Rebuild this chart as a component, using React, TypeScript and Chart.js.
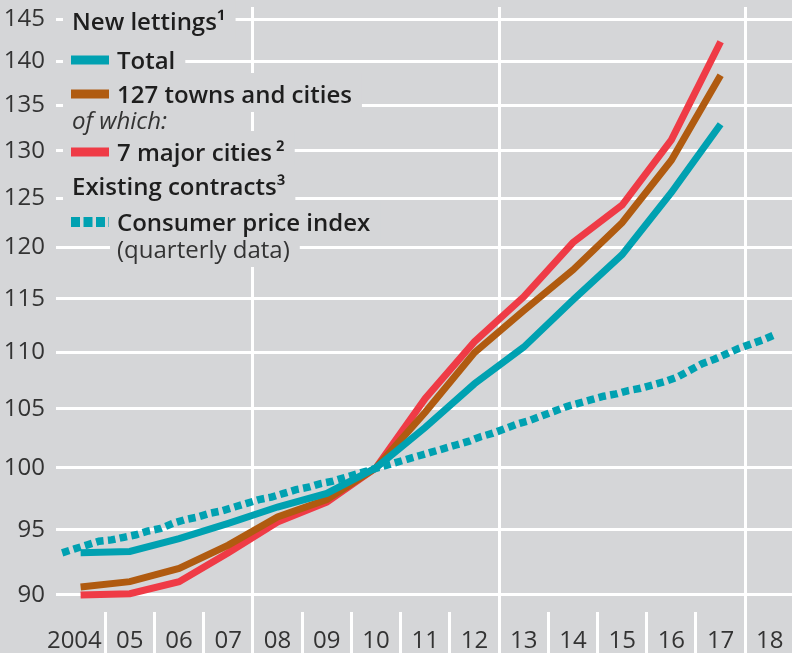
import React, { useEffect, useRef } from 'react';
import { Chart, registerables } from 'chart.js';

Chart.register(...registerables);

// ---------- data ----------
const years = [2004, 2005, 2006, 2007, 2008, 2009, 2010, 2011, 2012, 2013, 2014, 2015, 2016, 2017];
const total = [93.2, 93.3, 94.3, 95.5, 96.8, 97.9, 100, 103.4, 107.2, 110.5, 114.9, 119.3, 125.6, 132.9];
const towns127 = [90.6, 91.0, 92.0, 93.8, 96.0, 97.4, 100, 104.7, 110.0, 113.9, 117.8, 122.5, 129.0, 138.4];
const majorCities7 = [90.0, 90.1, 91.0, 93.2, 95.6, 97.2, 100, 105.9, 111.0, 115.2, 120.5, 124.3, 131.2, 142.3];
// quarterly, starting 2004 Q1
const cpiStartYear = 2004;
const cpiQuarterly = [
  93.2, 93.5, 93.8, 94.1,
  94.2, 94.4, 94.6, 94.9,
  95.1, 95.5, 95.8, 96.0,
  96.3, 96.5, 96.8, 97.1,
  97.4, 97.6, 97.9, 98.2,
  98.4, 98.7, 98.9, 99.2,
  99.5, 99.8, 100.1, 100.4,
  100.7, 101.0, 101.3, 101.6,
  101.9, 102.2, 102.6, 102.9,
  103.3, 103.7, 104.0, 104.4,
  104.8, 105.2, 105.5, 105.8,
  106.1, 106.3, 106.6, 106.8,
  107.1, 107.4, 107.8, 108.4,
  109.0, 109.4, 109.9, 110.4,
  110.8, 111.2, 111.7,
];
const yTicks = [90, 95, 100, 105, 110, 115, 120, 125, 130, 135, 140, 145];
const xTickYears = [2004, 2005, 2006, 2007, 2008, 2009, 2010, 2011, 2012, 2013, 2014, 2015, 2016, 2017, 2018];
const xGridYears = [2008, 2013, 2018];

const labelHeading1 = 'New lettings\u00B9';
const labelTotal = 'Total';
const labelTowns = '127 towns and cities';
const labelOfWhich = 'of which:';
const labelMajor = '7 major cities\u2009\u00B2';
const labelHeading2 = 'Existing contracts\u00B3';
const labelCpi = 'Consumer price index';
const labelCpiNote = '(quarterly data)';

// ---------- style ----------
const BG = '#d5d6d8';
const TEAL = '#00a1b1';
const BROWN = '#b05b10';
const RED = '#ef3b46';
const FONT = "'Open Sans', 'DejaVu Sans', sans-serif";
const TEXT = '#1e1e1e';

const annual = (vals: number[]) => vals.map((v, i) => ({ x: years[i] + 0.5, y: v }));
const cpiPoints = cpiQuarterly.map((v, i) => ({
  x: cpiStartYear + Math.floor(i / 4) + ((i % 4) + 0.5) / 4,
  y: v,
}));

const legendPlugin = {
  id: 'customLegend',
  beforeDatasetsDraw(chart: any) {
    const ctx = chart.ctx as CanvasRenderingContext2D;
    const bold = `600 24px ${FONT}`;
    const rows = [
      { text: labelHeading1, x: 72, base: 30, font: bold, color: TEXT, boxLeft: 63 },
      { text: labelTotal, x: 117, base: 69, font: bold, color: TEXT, boxLeft: 63, swatch: TEAL },
      { text: labelTowns, x: 117, base: 103, font: bold, color: TEXT, boxLeft: 63, swatch: BROWN },
      { text: labelOfWhich, x: 72, base: 129, font: `italic 400 24px ${FONT}`, color: '#333', boxLeft: 63 },
      { text: labelMajor, x: 117, base: 161, font: bold, color: TEXT, boxLeft: 63, swatch: RED },
      { text: labelHeading2, x: 72, base: 195, font: bold, color: TEXT, boxLeft: 63 },
      { text: labelCpi, x: 117, base: 231, font: bold, color: TEXT, boxLeft: 63, swatch: 'dotted' },
      { text: labelCpiNote, x: 117, base: 258, font: `400 24px ${FONT}`, color: '#333', boxLeft: 110 },
    ];
    ctx.save();
    ctx.fillStyle = BG;
    for (const r of rows) {
      ctx.font = r.font;
      const w = ctx.measureText(r.text).width;
      ctx.fillRect(r.boxLeft, r.base - 30, r.x + w + 10 - r.boxLeft, 39);
    }
    for (const r of rows) {
      if (r.swatch) {
        const cy = r.base - 9;
        if (r.swatch === 'dotted') {
          ctx.fillStyle = TEAL;
          for (let sx = 71; sx < 109; sx += 12.5) {
            ctx.fillRect(sx, cy - 5, Math.min(9, 109 - sx), 10);
          }
        } else {
          ctx.fillStyle = r.swatch;
          ctx.fillRect(71, cy - 4.5, 38, 9);
        }
      }
      ctx.font = r.font;
      ctx.fillStyle = r.color;
      ctx.textAlign = 'left';
      ctx.textBaseline = 'alphabetic';
      ctx.fillText(r.text, r.x, r.base);
    }
    ctx.restore();
  },
};

const bgPlugin = {
  id: 'bg',
  beforeDraw(chart: any) {
    const ctx = chart.ctx as CanvasRenderingContext2D;
    ctx.save();
    ctx.fillStyle = BG;
    ctx.fillRect(0, 0, chart.width, chart.height);
    ctx.restore();
  },
};

export default function App() {
  const ref = useRef<HTMLCanvasElement>(null);
  useEffect(() => {
    if (!ref.current) return;
    const chart = new Chart(ref.current, {
      type: 'line',
      data: {
        datasets: [
          {
            label: labelCpi,
            data: cpiPoints,
            borderColor: TEAL,
            borderWidth: 7.5,
            borderDash: [7.5, 4.4],
            borderCapStyle: 'butt',
            pointRadius: 0,
            tension: 0,
          },
          {
            label: labelTotal,
            data: annual(total),
            borderColor: TEAL,
            borderWidth: 7,
            borderCapStyle: 'butt',
            borderJoinStyle: 'miter',
            pointRadius: 0,
            tension: 0,
          },
          {
            label: labelTowns,
            data: annual(towns127),
            borderColor: BROWN,
            borderWidth: 7,
            borderCapStyle: 'butt',
            borderJoinStyle: 'miter',
            pointRadius: 0,
            tension: 0,
          },
          {
            label: labelMajor,
            data: annual(majorCities7),
            borderColor: RED,
            borderWidth: 7,
            borderCapStyle: 'butt',
            borderJoinStyle: 'miter',
            pointRadius: 0,
            tension: 0,
          },
        ],
      },
      options: {
        animation: false,
        responsive: false,
        devicePixelRatio: 1,
        layout: { padding: { top: 7, left: 0, right: 0, bottom: 0 } },
        plugins: {
          legend: { display: false },
          tooltip: { enabled: false },
        },
        scales: {
          x: {
            type: 'linear',
            min: 2004,
            max: 2018.95,
            bounds: 'data',
            afterBuildTicks: (scale: any) => {
              scale.ticks = xTickYears.map((v) => ({ value: v }));
            },
            afterFit: (scale: any) => {
              scale.height = 41;
              scale.paddingLeft = 0;
              scale.paddingRight = 0;
              scale.paddingTop = 0;
              scale.paddingBottom = 0;
            },
            border: { display: false },
            grid: {
              color: (ctx: any) => (ctx.tick && xGridYears.includes(ctx.tick.value) ? '#ffffff' : 'rgba(0,0,0,0)'),
              tickColor: (ctx: any) => (ctx.tick && ctx.tick.value === 2004 ? 'rgba(0,0,0,0)' : '#ffffff'),
              lineWidth: 3,
              tickWidth: 3,
              tickLength: 41,
              drawTicks: true,
            },
            ticks: {
              autoSkip: false,
              maxRotation: 0,
              minRotation: 0,
              labelOffset: 24.6,
              padding: -26,
              color: '#333',
              font: { family: FONT, size: 24, weight: '400' },
              callback: (v: any) => {
                const n = Number(v);
                if (n === 2004) return '2004  ';
                return String(n % 100).padStart(2, '0');
              },
            },
          },
          y: {
            type: 'logarithmic',
            min: 88.742,
            max: 146.448,
            bounds: 'data',
            afterBuildTicks: (scale: any) => {
              scale.ticks = yTicks.map((v) => ({ value: v }));
            },
            afterFit: (scale: any) => {
              scale.width = 56;
              scale.paddingLeft = 0;
              scale.paddingRight = 0;
              scale.paddingTop = 0;
              scale.paddingBottom = 0;
            },
            border: { display: false },
            grid: {
              color: '#ffffff',
              lineWidth: 3,
              drawTicks: false,
            },
            ticks: {
              padding: 11,
              color: '#333',
              font: { family: FONT, size: 24, weight: '400' },
              callback: (v: any) => String(v),
            },
          },
        },
      },
      plugins: [bgPlugin, legendPlugin],
    } as any);
    return () => chart.destroy();
  }, []);

  return (
    <div style={{ position: 'absolute', left: 0, top: 0, width: 792, height: 653, background: BG, overflow: 'hidden' }}>
      <canvas ref={ref} width={792} height={653} style={{ display: 'block', width: 792, height: 653 }} />
    </div>
  );
}
